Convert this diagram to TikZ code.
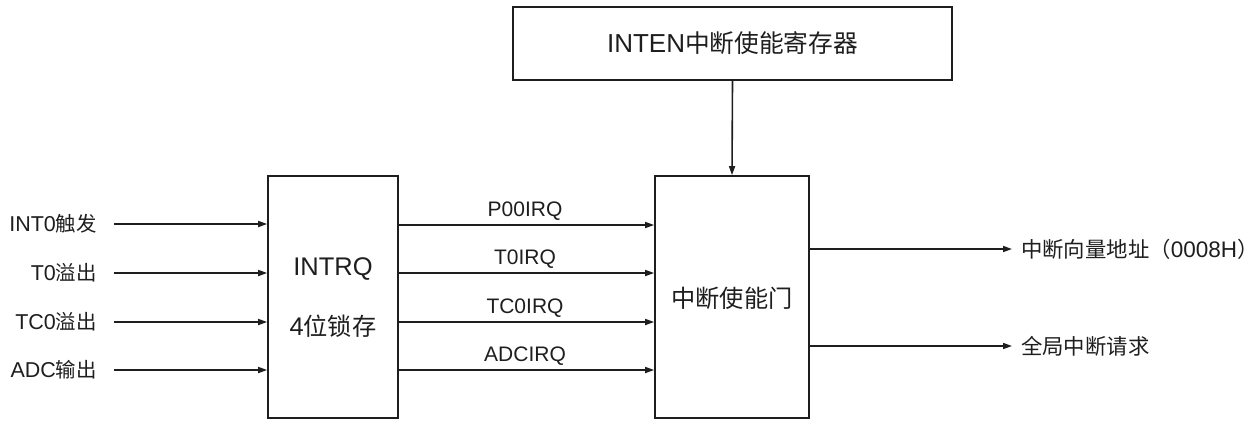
\documentclass[tikz,border=0pt]{standalone}
\usepackage{fontspec}
\setmainfont{Liberation Sans}
\newfontfamily\cjk{Noto Sans CJK SC}[Scale=0.95]
\usetikzlibrary{arrows.meta}
\definecolor{ink}{RGB}{30,30,30}
\tikzset{
  box/.style={draw=ink, line width=1.7pt, minimum width=#1, inner sep=0pt},
  arr/.style={draw=ink, line width=1.6pt, -{Triangle[length=9pt,width=6pt]}},
  lbl/.style={text=ink, inner sep=0pt, font=\fontsize{21.5}{24}\selectfont},
  mid/.style={text=ink, inner sep=0pt, font=\fontsize{21}{24}\selectfont},
  big/.style={text=ink, inner sep=0pt, font=\fontsize{25.5}{28}\selectfont},
}
\begin{document}
\begin{tikzpicture}[x=1pt,y=-1pt]
\useasboundingbox (0,0) rectangle (1260,421);
% boxes
\node[box=439pt, minimum height=73pt, font=\fontsize{26}{28}\selectfont, text=ink] (inten) at (732.5,43.5) {INTEN{\cjk 中断使能寄存器}};
\node[box=130pt, minimum height=242pt] (q) at (333,297) {};
\node[box=154pt, minimum height=242pt] (g) at (732,297) {};
\node[big] (qt1) at (333,269) {INTRQ};
\node[big] (qt2) at (333,326) {4{\cjk 位锁存}};
\node[big] (gt) at (732,298) {\cjk 中断使能门};
% top arrow
\draw[arr] (inten.south) -- (g.north);
% inputs
\foreach \y/\t/\n in {224/{INT0{\cjk 触发}}/1, 273/{T0{\cjk 溢出}}/2, 322/{TC0{\cjk 溢出}}/3, 370/{ADC{\cjk 输出}}/4}{
  \node[lbl, anchor=east] (in\n) at (97,\y) {\t};
  \coordinate (is\n) at (114,\y);
  \draw[arr] (is\n) -- (is\n -| q.west);
}
% middle
\foreach \y/\t/\n in {225/P00IRQ/1, 273/T0IRQ/2, 322/TC0IRQ/3, 370/ADCIRQ/4}{
  \coordinate (ms\n) at (q.east |- 0,\y);
  \draw[arr] (ms\n) -- (ms\n -| g.west);
  \node[mid] (ml\n) at (525,\y-14) {\t};
}
% outputs
\node[lbl, anchor=west, font=\fontsize{22.5}{25}\selectfont] (o1) at (1021,249) {{\cjk 中断向量地址（}0008H{\cjk ）}};
\node[lbl, anchor=west, font=\fontsize{22.5}{25}\selectfont] (o2) at (1021,346) {\cjk 全局中断请求};
\draw[arr, shorten >=9pt] (g.east |- o1.west) -- (o1.west);
\draw[arr, shorten >=9pt] (g.east |- o2.west) -- (o2.west);
\end{tikzpicture}
\end{document}
